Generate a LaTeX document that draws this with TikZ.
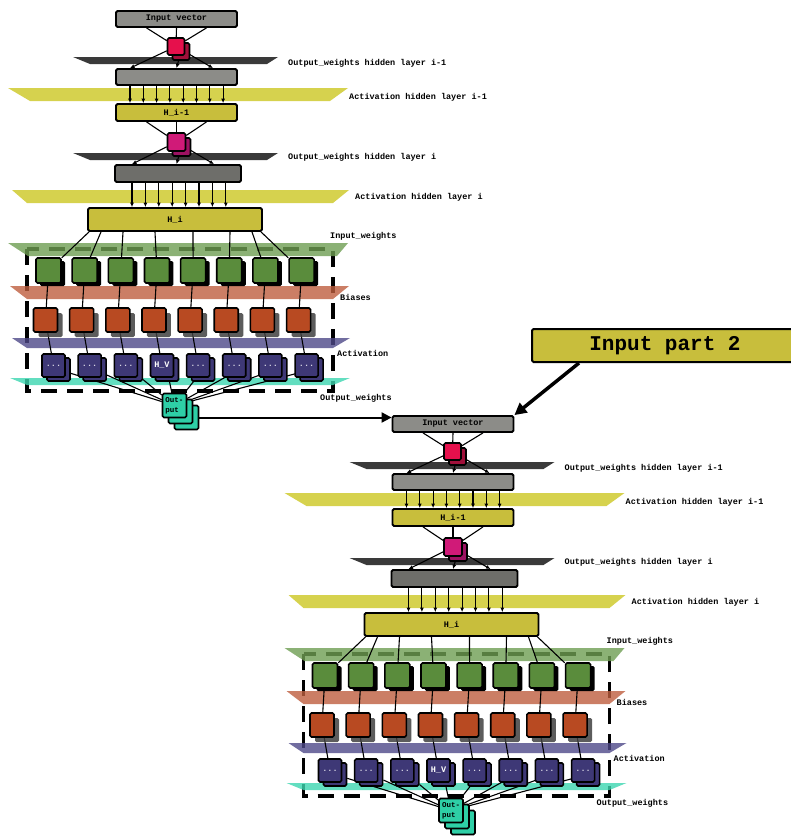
\documentclass[tikz,border=0pt]{standalone}
\usepackage{fontspec}
\setmonofont{Liberation Mono}
\usepackage{tikz}
\usetikzlibrary{arrows.meta,shadows}
\definecolor{grayA}{HTML}{8C8C88}
\definecolor{grayB}{HTML}{6E6E6A}
\definecolor{darkband}{HTML}{3A3A3A}
\definecolor{yelband}{HTML}{D6D24E}
\definecolor{olivex}{HTML}{C8BE3C}
\definecolor{redx}{HTML}{E6104C}
\definecolor{redback}{HTML}{A0103A}
\definecolor{magx}{HTML}{D01A78}
\definecolor{magback}{HTML}{9C1262}
\definecolor{greenband}{HTML}{6E9E52}
\definecolor{greenx}{HTML}{5A8C3C}
\definecolor{orangeband}{HTML}{BE5E3E}
\definecolor{orangex}{HTML}{B84A22}
\definecolor{purpleband}{HTML}{4E4888}
\definecolor{purplex}{HTML}{3E3876}
\definecolor{tealband}{HTML}{3CD6B0}
\definecolor{tealx}{HTML}{2ECFA6}
\pgfdeclarelayer{back}
\pgfdeclarelayer{wires}
\pgfsetlayers{back,wires,main}
\newcommand{\lbl}{\ttfamily\bfseries\fontsize{8.5}{9}\selectfont}
\tikzset{
  ln/.style={line width=1.1pt},
  ar/.style={-{Latex[length=4.5pt,width=4pt]},line width=1.1pt},
  bigar/.style={-{Triangle[length=10pt,width=10pt]},line width=2pt},
  bar/.style={draw,line width=1.8pt,rounded corners=1.5pt,inner sep=0pt,font=\lbl},
  sq/.style={draw,line width=1.6pt,rounded corners=1.5pt,inner sep=0pt,minimum width=#1,minimum height=#1},
  tag/.style={anchor=west,font=\lbl,inner sep=0pt},
  see/.style={fill opacity=0.8},
  gbox/.style={sq=25pt,fill=greenx,drop shadow={shadow xshift=4pt,shadow yshift=-3pt,fill=black,opacity=1}},
  obox/.style={sq=24pt,fill=orangex,drop shadow={shadow xshift=5pt,shadow yshift=-5pt,fill=black!75,opacity=0.85}},
  pbox/.style={sq=23pt,fill=purplex,font=\lbl,text=white!80!purplex}
}
% band: colour, y top, y bottom, x top left, x top right, x bottom right, x bottom left
\newcommand{\band}[7]{\fill[#1] (#4,#2)--(#5,#2)--(#6,#3)--(#7,#3)--cycle;}

\newcommand{\netstack}{%
 \begin{pgfonlayer}{back}
  \draw[line width=3.5pt,dash pattern=on 16pt off 10pt] (27,249) rectangle (333,391);
  \band{darkband}{57}{64}{73}{278}{267}{90}
  \band{yelband}{88}{101}{8}{348}{330}{30}
  \band{darkband}{153}{160}{73}{278}{267}{90}
  \band{yelband}{190}{203}{12}{349}{333}{27}
  \band{greenband,see}{243}{256}{8}{348}{337}{28}
  \band{orangeband,see}{286}{299}{10}{349}{333}{27}
  \band{purpleband,see}{338}{348}{12}{350}{333}{27}
  \band{tealband,see}{378}{385}{10}{350}{333}{27}
 \end{pgfonlayer}
 % hidden layer i-1
 \node[bar,fill=grayA,minimum width=121pt,minimum height=16pt] (in) at (176.5,19) {Input vector};
 \node[sq=17pt,fill=redback] (mixAb) at (181,51.5) {};
 \node[sq=17pt,fill=redx] (mixA) at (176,46.5) {};
 \node[bar,fill=grayA,minimum width=121pt,minimum height=16pt] (gA) at (176.5,77) {};
 \node[bar,fill=olivex,minimum width=121pt,minimum height=17pt] (hA) at (176.5,112.5) {H\_i-1};
 % hidden layer i
 \node[sq=18pt,fill=magback] (mixBb) at (181.5,147) {};
 \node[sq=18pt,fill=magx] (mixB) at (176.5,142) {};
 \node[bar,fill=grayB,minimum width=126pt,minimum height=17pt] (gB) at (178,173.5) {};
 \node[bar,fill=olivex,minimum width=174pt,minimum height=23pt] (hi) at (175,219.5) {H\_i};
 % inner cells
 \foreach \k in {0,...,7}{
  \node[gbox] (g\k) at ({48.5+36.15*\k},270.5) {};
  \node[obox] (o\k) at ({45.5+36.15*\k},320) {};
  \node[pbox] (pb\k) at ({58.5+36.15*\k},369.5) {};
  \node[pbox] (p\k) at ({53.5+36.15*\k},365.5) {\ifnum\k=3 \textcolor{white}{H\_V}\else ...\fi};
 }
 \node[sq=24pt,fill=tealx] (out3) at (186.5,417.5) {};
 \node[sq=24pt,fill=tealx] (out2) at (180.5,411.5) {};
 \node[sq=24pt,fill=tealx,font=\ttfamily\bfseries\fontsize{7.5}{10}\selectfont,align=left] (out1) at (174.5,405.5) {Out-\\put};
 \begin{pgfonlayer}{wires}
  \foreach \s in {-30,0,30}{
   \draw[ln] ([xshift=\s pt]in.south) -- (mixA);
   \draw[ln] ([xshift=\s pt]hA.south) -- (mixB);
  }
  \draw[ar] (mixA) -- ([xshift=-46.5pt]gA.north);
  \draw[ar] (mixAb) -- (gA.north);
  \draw[ar] (mixA) -- ([xshift=36.5pt]gA.north);
  \draw[ar] (mixB) -- ([xshift=-46pt]gB.north);
  \draw[ar] (mixBb) -- ([xshift=-1.5pt]gB.north);
  \draw[ar] (mixB) -- ([xshift=36pt]gB.north);
  \foreach \k in {0,...,7}{
   \draw[ar] ([xshift={-46.5+13.3*\k}]gA.south) -- ([xshift={-46.5+13.3*\k}]hA.north);
   \draw[ar] ([xshift={-46+13.4*\k}]gB.south) -- ([xshift={-46+13.4*\k}]hi.north -| gB.south);
  }
  \foreach \k/\s in {0/-86,1/-74,2/-52,3/-20,4/18,5/55,6/77,7/86}
   \draw[ln] ([xshift=\s pt]hi.south) -- (g\k);
  \foreach \k in {0,...,7}{
   \draw[ln] (g\k) -- (o\k);
   \draw[ln] (o\k) -- (p\k);
   \draw[ln] (pb\k) -- (out1);
  }
 \end{pgfonlayer}
 % labels
 \node[tag] (tA) at (288,63) {Output\_weights hidden layer i-1};
 \node[tag] (tB) at (349,97) {Activation hidden layer i-1};
 \node[tag] (tC) at (288,157) {Output\_weights hidden layer i};
 \node[tag] (tD) at (355,197) {Activation hidden layer i};
 \node[tag] (tE) at (330,236) {Input\_weights};
 \node[tag] (tF) at (340,297) {Biases};
 \node[tag] (tG) at (337,353) {Activation};
 \node[tag] (tH) at (320,398) {Output\_weights};
}

\begin{document}
\begin{tikzpicture}[x=1pt,y=-1pt]
\useasboundingbox (0,0) rectangle (791,836);
\begin{scope}[name prefix=s1-]
 \netstack
\end{scope}
\begin{scope}[shift={(276.5,405)},name prefix=s2-]
 \netstack
\end{scope}
\node[draw,line width=2pt,rounded corners=1.5pt,fill=olivex,minimum width=266pt,minimum height=33pt,
  font=\ttfamily\bfseries\fontsize{21}{24}\selectfont] (part) at (665,345.5) {Input part 2};
\draw[bigar] (s1-out3.east) -- (s1-out3.east -| s2-in.west);
\draw[-{Triangle[length=12pt,width=12pt]},line width=3.5pt] ([xshift=48pt]part.south west) -- (s2-in.north east);
\end{tikzpicture}
\end{document}
